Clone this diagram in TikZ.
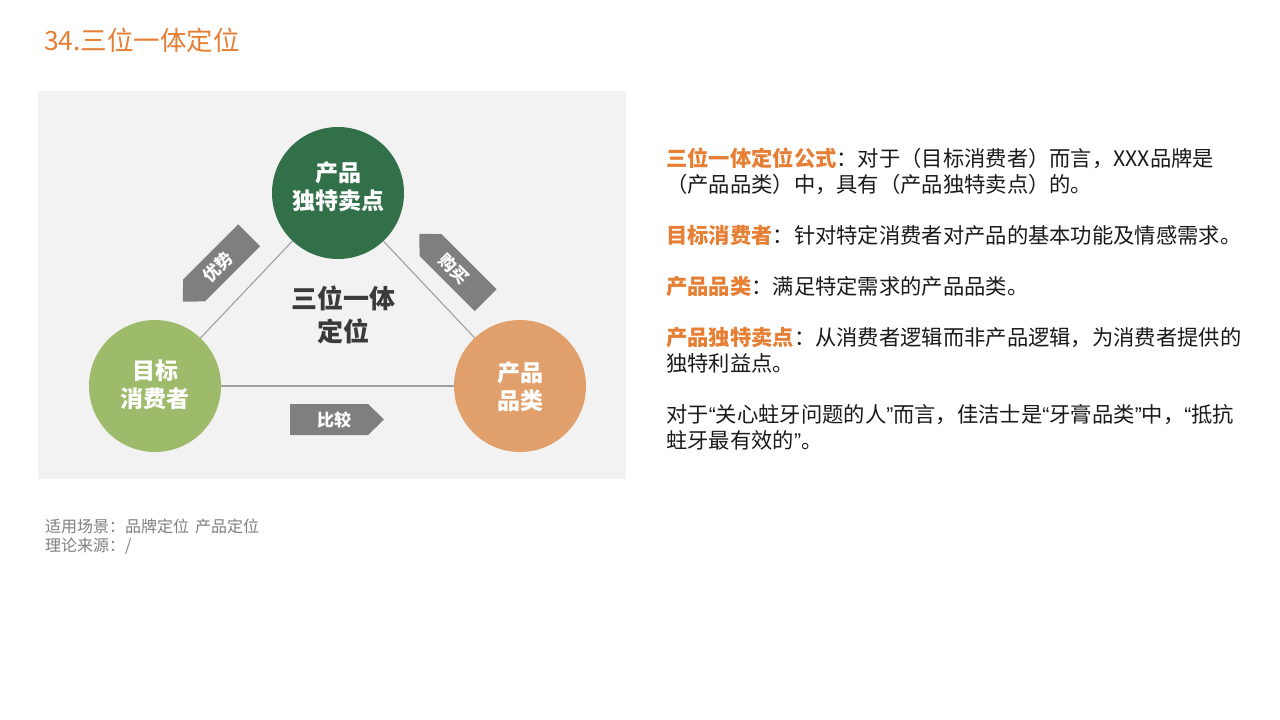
\documentclass[tikz,border=0pt]{standalone}
\usepackage{fontspec}
\setmainfont{Noto Sans CJK SC}
\newfontfamily\latfont{Liberation Sans}
\newcommand\myoq{{\latfont “}}
\newcommand\mycq{{\latfont ”}}
\definecolor{panel}{HTML}{F2F2F2}
\definecolor{dkgreen}{HTML}{32704A}
\definecolor{ltgreen}{HTML}{9DBB6B}
\definecolor{orangec}{HTML}{E1A06B}
\definecolor{arrowgray}{HTML}{7F7F7F}
\definecolor{linegray}{HTML}{A0A0A0}
\definecolor{titleor}{HTML}{E67E33}
\definecolor{textblack}{HTML}{1A1A1A}
\definecolor{centertext}{HTML}{3A3A3A}
\definecolor{notegray}{HTML}{7F7F7F}
\begin{document}
\begin{tikzpicture}[x=1pt,y=1pt,
  circ/.style={circle, minimum size=132pt, inner sep=0pt},
  circtext/.style={inner sep=0pt, text=white, font=\bfseries\fontsize{23}{28}\selectfont, align=center},
  lbl/.style={text=white, inner sep=0pt, font=\bfseries\fontsize{17}{20}\selectfont},
  link/.style={draw=linegray, line width=1.1pt},
  body/.style={anchor=base west, inner sep=0pt, font=\fontsize{21.3}{26}\selectfont, text=textblack},
  hl/.style={text=titleor},
  note/.style={anchor=base west, inner sep=0pt, font=\fontsize{16}{19}\selectfont, text=notegray},
  tagshape/.style={fill=arrowgray}
]
\useasboundingbox (0,0) rectangle (1280,-720);
\fill[white] (0,0) rectangle (1280,-720);
% title
\node[anchor=base west, inner sep=0pt, text=titleor, font=\fontsize{26.5}{30}\selectfont] (title) at (44,-50) {34.三位一体定位};
% panel
\fill[panel] (38,-91) rectangle (626,-479);
% circles
\node[circ, fill=dkgreen] (T) at (338,-193) {};
\node[circ, fill=ltgreen] (L) at (155,-386) {};
\node[circ, fill=orangec] (R) at (520,-386) {};
\node[circtext] (Tt) at (338,-187) {产品\\独特卖点};
\node[circtext] (Lt) at (155,-385) {目标\\消费者};
\node[circtext] (Rt) at (520,-387) {产品\\品类};
\draw[link] (L) -- (T);
\draw[link] (T) -- (R);
\draw[link] (L) -- (R);
\node[inner sep=0pt, align=center, text=centertext, font=\bfseries\fontsize{26}{33}\selectfont] (C) at (343,-315) {三位一体\\定位};
% tag arrows
\begin{scope}[shift={(337,-419.5)}]
\fill[tagshape] (-47,-15.5) -- (31,-15.5) -- (47,0) -- (31,15.5) -- (-47,15.5) -- cycle;
\end{scope}
\node[lbl] (bj) at (334,-419.5) {比较};
\begin{scope}[shift={(216,-268.5)}, rotate=225]
\fill[tagshape] (-47,-15.5) -- (31,-15.5) -- (47,0) -- (31,15.5) -- (-47,15.5) -- cycle;
\end{scope}
\node[lbl, rotate=45] (ys) at (218,-266.5) {优势};
\begin{scope}[shift={(452.5,-267)}, rotate=135]
\fill[tagshape] (-47,-15.5) -- (31,-15.5) -- (47,0) -- (31,15.5) -- (-47,15.5) -- cycle;
\end{scope}
\node[lbl, rotate=-45] (gm) at (454.5,-269) {购买};
% right text
\node[body] (p1a) at (666,-166) {\textcolor{titleor}{\bfseries 三位一体定位公式}：对于（目标消费者）而言，XXX品牌是};
\node[body] (p1b) at (666,-192) {（产品品类）中，具有（产品独特卖点）的。};
\node[body] (p2) at (666,-243) {\textcolor{titleor}{\bfseries 目标消费者}：针对特定消费者对产品的基本功能及情感需求。};
\node[body] (p3) at (666,-294) {\textcolor{titleor}{\bfseries 产品品类}：满足特定需求的产品品类。};
\node[body] (p4a) at (666,-345) {\textcolor{titleor}{\bfseries 产品独特卖点}：从消费者逻辑而非产品逻辑，为消费者提供的};
\node[body] (p4b) at (666,-371) {独特利益点。};
\node[body] (p5a) at (666,-422) {对于\myoq 关心蛀牙问题的人\mycq 而言，佳洁士是\myoq 牙膏品类\mycq 中，\myoq 抵抗};
\node[body] (p5b) at (666,-448) {蛀牙最有效的\mycq 。};
% notes
\node[note] (n1) at (45,-532) {适用场景：品牌定位\hspace{6pt}产品定位};
\node[note] (n2) at (45,-551) {理论来源：/};
\end{tikzpicture}
\end{document}
